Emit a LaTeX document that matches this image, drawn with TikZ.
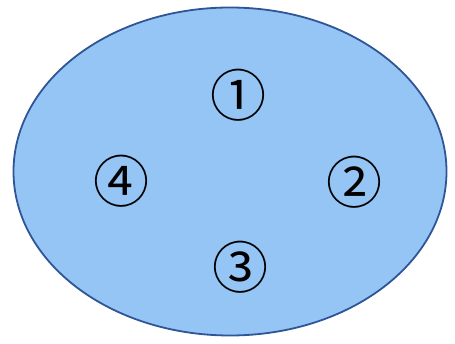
\documentclass[tikz,border=0pt]{standalone}
\usepackage{fontspec}
\newfontfamily\cjk{Noto Sans CJK JP}
\definecolor{fillblue}{HTML}{95C5F5}
\definecolor{edgeblue}{HTML}{2F5597}
\begin{document}
\begin{tikzpicture}[x=1pt,y=1pt,
  num/.style={inner sep=0pt, font=\cjk\fontsize{56}{56}\selectfont}]
\useasboundingbox (0,0) rectangle (455,343);
\draw[edgeblue, fill=fillblue, line width=1.8pt] (230,171.5) ellipse [x radius=216.5, y radius=164];
\node[num] (n1) at (238,248) {①};
\node[num] (n2) at (354.5,160.5) {②};
\node[num] (n3) at (240,76) {③};
\node[num] (n4) at (121,162) {④};
\end{tikzpicture}
\end{document}
